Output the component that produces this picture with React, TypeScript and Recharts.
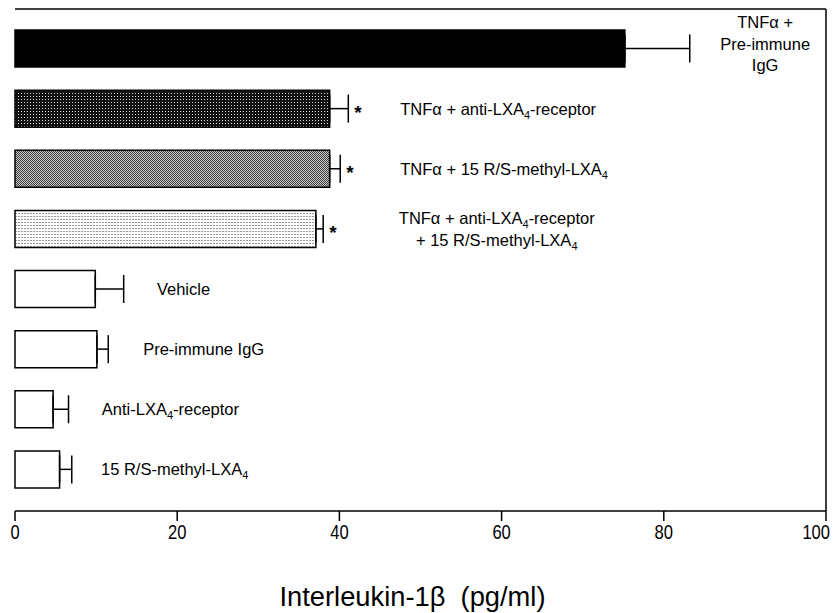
import React from 'react';
import { BarChart, Bar, XAxis, YAxis, ErrorBar, Cell, LabelList, Label, CartesianGrid } from 'recharts';

const categories = [
  'TNFα + Pre-immune IgG',
  'TNFα + anti-LXA4-receptor',
  'TNFα + 15 R/S-methyl-LXA4',
  'TNFα + anti-LXA4-receptor + 15 R/S-methyl-LXA4',
  'Vehicle',
  'Pre-immune IgG',
  'Anti-LXA4-receptor',
  '15 R/S-methyl-LXA4',
];
const il1b = [75.2, 38.8, 38.8, 37.1, 9.9, 10.1, 4.7, 5.5];
const sem = [8.0, 2.3, 1.3, 0.9, 3.5, 1.4, 1.9, 1.5];
const significant = [false, true, true, true, false, false, false, false];
const labelLines = [
  ['TNFα +', 'Pre-immune', 'IgG'],
  ['TNFα + anti-LXA4-receptor'],
  ['TNFα + 15 R/S-methyl-LXA4'],
  ['TNFα + anti-LXA4-receptor', '+ 15 R/S-methyl-LXA4'],
  ['Vehicle'],
  ['Pre-immune IgG'],
  ['Anti-LXA4-receptor'],
  ['15 R/S-methyl-LXA4'],
];
const xTicks = [0, 20, 40, 60, 80, 100];

// where each annotation sits, in axis units, and how it is anchored
const labelAt = [92.5, 47.5, 47.5, 59.4, 17.5, 15.8, 10.7, 10.6];
const labelAnchor = ['middle', 'start', 'start', 'middle', 'start', 'start', 'start', 'start'];
const fills = ['#000', 'url(#dotsDark)', 'url(#checker)', 'url(#dotsLight)', '#fff', '#fff', '#fff', '#fff'];

const data = categories.map((name, i) => ({ name, value: il1b[i], err: [0, sem[i]] }));

const FONT = '"Liberation Sans", Arial, sans-serif';

function withSub(line: string, key: string) {
  const parts = line.split('LXA4');
  const out: React.ReactNode[] = [];
  parts.forEach((p, j) => {
    if (p) out.push(<tspan key={key + 'p' + j} dy={j > 0 ? -4 : undefined}>{p}</tspan>);
    if (j < parts.length - 1) {
      out.push(<tspan key={key + 'l' + j}>LXA</tspan>);
      out.push(<tspan key={key + 's' + j} dy={4} fontSize={11}>4</tspan>);
    }
  });
  return out;
}

const renderLabel = (props: any) => {
  const { x, y, width, height, index } = props;
  const i = index;
  const scale = width / il1b[i];
  const errEnd = x + (il1b[i] + sem[i]) * scale;
  const cy = y + height / 2;
  const lines = labelLines[i];
  const lh = 21.5;
  const top = i === 0 ? cy - 5 - lh : cy - ((lines.length - 1) * lh) / 2;
  const tx = x + labelAt[i] * scale;
  return (
    <g>
      {significant[i] && (
        <text x={errEnd + 6} y={cy + 10} fontSize={19} fontWeight="bold" fontFamily={FONT} fill="#000">
          *
        </text>
      )}
      {lines.map((ln, k) => (
        <text
          key={k}
          x={tx}
          y={top + k * lh + 6}
          fontSize={16.5}
          fontFamily={FONT}
          textAnchor={labelAnchor[i] as any}
          fill="#000"
        >
          {withSub(ln, 'k' + k)}
        </text>
      ))}
    </g>
  );
};

const renderTick = (props: any) => {
  const { x, y, payload, index } = props;
  const s = String(payload.value);
  // the last label would run past the page edge, so it ends at the tick instead
  const last = index === xTicks.length - 1;
  return (
    <text
      x={last ? x + 4 : x}
      y={y + 16}
      textAnchor={last ? 'end' : 'middle'}
      fontSize={21}
      fontFamily={FONT}
      fill="#000"
      textLength={s.length * 9.2}
      lengthAdjust="spacingAndGlyphs"
    >
      {s}
    </text>
  );
};

const renderTitle = (props: any) => {
  const { viewBox } = props;
  const cx = viewBox.x + viewBox.width / 2 - 8;
  return (
    <text
      x={cx}
      y={viewBox.y + 95}
      textAnchor="middle"
      fontSize={27}
      fontFamily={FONT}
      fill="#000"
      textLength={266}
      lengthAdjust="spacingAndGlyphs"
    >
      {'Interleukin-1β\u00a0\u00a0(pg/ml)'}
    </text>
  );
};

export default function App() {
  return (
    <div style={{ width: 831, height: 605, position: 'relative' }}>
      <svg width={0} height={0} style={{ position: 'absolute' }}>
        <defs>
          <pattern id="dotsDark" width={3} height={3} patternUnits="userSpaceOnUse">
            <rect width={3} height={3} fill="#111" />
            <rect x={1} y={1} width={1} height={1} fill="#ddd" />
          </pattern>
          <pattern id="checker" width={2} height={2} patternUnits="userSpaceOnUse">
            <rect width={2} height={2} fill="#c4c4c4" />
            <rect x={0} y={0} width={1} height={1} fill="#444" />
            <rect x={1} y={1} width={1} height={1} fill="#444" />
          </pattern>
          <pattern id="dotsLight" width={3} height={3} patternUnits="userSpaceOnUse">
            <rect width={3} height={3} fill="#fff" />
            <rect x={1} y={1} width={2} height={1} fill="#999" />
          </pattern>
        </defs>
      </svg>
      <BarChart
        width={831}
        height={605}
        layout="vertical"
        data={data}
        margin={{ top: 1, right: 13, left: 7, bottom: 0 }}
      >
        <CartesianGrid
          stroke="#000"
          strokeWidth={1.5}
          horizontalCoordinatesGenerator={(p: any) => [p.offset.top]}
          verticalCoordinatesGenerator={(p: any) => [p.offset.left + p.offset.width]}
        />
        <XAxis
          type="number"
          domain={[0, 100]}
          ticks={xTicks}
          height={102}
          tickSize={10}
          tickLine={{ stroke: '#000', strokeWidth: 1.5 }}
          axisLine={{ stroke: '#000', strokeWidth: 1.5 }}
          tick={renderTick}
          interval={0}
        >
          <Label content={renderTitle} />
        </XAxis>
        <YAxis
          type="category"
          dataKey="name"
          width={0}
          tick={false}
          tickLine={false}
          padding={{ top: 9, bottom: 12 }}
          axisLine={{ stroke: '#000', strokeWidth: 1.5 }}
        />
        <Bar dataKey="value" barSize={37} stroke="#000" strokeWidth={1.5} isAnimationActive={false}>
          {data.map((d, i) => (
            <Cell key={d.name} fill={fills[i]} />
          ))}
          <ErrorBar dataKey="err" direction="x" width={14} stroke="#000" strokeWidth={1.5} isAnimationActive={false} />
          <LabelList dataKey="name" content={renderLabel} />
        </Bar>
      </BarChart>
    </div>
  );
}
